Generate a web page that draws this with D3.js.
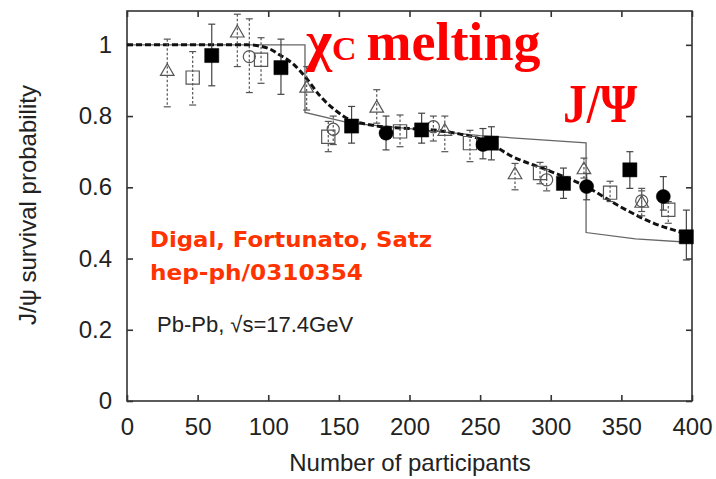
<!DOCTYPE html>
<html>
<head>
<meta charset="utf-8">
<script src="https://cdn.jsdelivr.net/npm/d3@7/dist/d3.min.js"></script>
<style>
  html, body { margin: 0; padding: 0; background: #fff; }
  svg { display: block; }
</style>
</head>
<body>
<svg id="chart" width="716" height="479"></svg>
<script>
// J/psi survival probability vs. number of participants (Pb-Pb, sqrt(s)=17.4 GeV)

// Measurements: [Npart, survival, upper error end, lower error end]
const filledSquares = [
  [60, 0.970, 1.058, 0.885],
  [109, 0.936, 1.016, 0.861],
  [159, 0.772, 0.827, 0.724],
  [208.6, 0.761, 0.808, 0.724],
  [258, 0.724, 0.770, 0.677],
  [309, 0.611, 0.654, 0.569],
  [356, 0.649, 0.700, 0.597],
  [396, 0.461, 0.536, 0.396]
];
const filledCircles = [
  [183.4, 0.752, 0.800, 0.705],
  [252, 0.720, 0.765, 0.680],
  [325.4, 0.602, 0.639, 0.565],
  [379.7, 0.574, 0.630, 0.536]
];
const openSquares = [
  [46.5, 0.908, 0.981, 0.831],
  [94.9, 0.958, 1.020, 0.892],
  [142.5, 0.742, 0.785, 0.700],
  [193.3, 0.757, 0.803, 0.714],
  [242.8, 0.724, 0.760, 0.672],
  [292.4, 0.640, 0.670, 0.610],
  [342, 0.585, 0.617, 0.560],
  [383.2, 0.537, 0.560, 0.499]
];
const openCircles = [
  [86.6, 0.967, 1.073, 0.866],
  [146, 0.763, 0.800, 0.720],
  [216.9, 0.770, 0.800, 0.730],
  [297.1, 0.621, 0.650, 0.590],
  [364.4, 0.562, 0.597, 0.532]
];
const openTriangles = [
  [28.5, 0.925, 1.016, 0.826],
  [78.1, 1.033, 1.086, 0.939],
  [127.2, 0.878, 0.939, 0.817],
  [176.8, 0.822, 0.874, 0.780],
  [225, 0.757, 0.800, 0.700],
  [274.7, 0.635, 0.667, 0.593],
  [323.5, 0.649, 0.682, 0.626],
  [364.4, 0.555, 0.590, 0.520]
];

// Sequential-suppression model (thin solid) and smeared version (thick dashed)
const stepN = [0, 126, 126, 158, 200, 250, 325, 325, 360, 400];
const stepS = [1, 1, 0.81, 0.78, 0.765, 0.745, 0.725, 0.473, 0.455, 0.445];
const smearN = [0, 85, 100, 108, 118, 126, 137, 148, 158, 170, 181, 200, 217, 235, 252, 273, 297, 325, 349, 373, 394, 400];
const smearS = [1, 1, 0.99, 0.972, 0.945, 0.911, 0.855, 0.815, 0.789, 0.777, 0.770, 0.765, 0.761, 0.750, 0.733, 0.686, 0.649, 0.602, 0.546, 0.499, 0.472, 0.465];

const xTicks = [0, 50, 100, 150, 200, 250, 300, 350, 400];
const yTicks = [0, 0.2, 0.4, 0.6, 0.8, 1];

const svg = d3.select("#chart");
const x = d3.scaleLinear().domain([0, 400]).range([127, 692]);
const y = d3.scaleLinear().domain([0, 1.095]).range([401, 11]);

const axisColor = "#333";
const tickFont = "'Liberation Sans', Arial, sans-serif";

// Frame
svg.append("rect")
  .attr("x", x(0)).attr("y", y(1.095))
  .attr("width", x(400) - x(0)).attr("height", y(0) - y(1.095))
  .attr("fill", "none").attr("stroke", axisColor).attr("stroke-width", 1.6);

// Axes with inward ticks on all sides
const tickLen = 6;
const axisB = svg.append("g").attr("transform", `translate(0,${y(0)})`)
  .call(d3.axisBottom(x).tickValues(xTicks).tickSizeInner(-tickLen).tickSizeOuter(0).tickPadding(17).tickFormat(d3.format("d")));
const axisT = svg.append("g").attr("transform", `translate(0,${y(1.095)})`)
  .call(d3.axisTop(x).tickValues(xTicks).tickSizeInner(-tickLen).tickSizeOuter(0).tickFormat(""));
const axisL = svg.append("g").attr("transform", `translate(${x(0)},0)`)
  .call(d3.axisLeft(y).tickValues(yTicks).tickSizeInner(-tickLen).tickSizeOuter(0).tickPadding(15).tickFormat(d => d === 0 || d === 1 ? d3.format("d")(d) : d3.format(".1f")(d)));
const axisR = svg.append("g").attr("transform", `translate(${x(400)},0)`)
  .call(d3.axisRight(y).tickValues(yTicks).tickSizeInner(-tickLen).tickSizeOuter(0).tickFormat(""));
[axisB, axisT, axisL, axisR].forEach(g => {
  g.select(".domain").remove();
  g.selectAll(".tick line").attr("stroke", axisColor).attr("stroke-width", 1.6);
  g.selectAll(".tick text").attr("fill", "#222").style("font-family", tickFont).style("font-size", "24px");
});

// Axis titles
svg.append("text")
  .attr("x", 410).attr("y", 471)
  .attr("text-anchor", "middle")
  .style("font-family", tickFont).style("font-size", "24px").attr("fill", "#222")
  .text("Number of participants");
svg.append("text")
  .attr("transform", "translate(36,205) rotate(-90)")
  .attr("text-anchor", "middle")
  .style("font-family", tickFont).style("font-size", "24px").attr("fill", "#222")
  .text("J/ψ survival probability");

// Model curves
const lineOf = (ns, ss, curve) => d3.line().x(i => x(ns[i])).y(i => y(ss[i])).curve(curve)(d3.range(ns.length));
svg.append("path")
  .attr("d", lineOf(stepN, stepS, d3.curveLinear))
  .attr("fill", "none").attr("stroke", "#666").attr("stroke-width", 1.3);
svg.append("path")
  .attr("d", lineOf(smearN, smearS, d3.curveMonotoneX))
  .attr("fill", "none").attr("stroke", "#111").attr("stroke-width", 3)
  .attr("stroke-dasharray", "6,3");

// Error bars
function errorBars(data, dashed) {
  const g = svg.append("g")
    .attr("stroke", dashed ? "#555" : "#444")
    .attr("stroke-width", 1.2);
  data.forEach(d => {
    g.append("line").attr("x1", x(d[0])).attr("x2", x(d[0])).attr("y1", y(d[2])).attr("y2", y(d[3]))
      .attr("stroke-dasharray", dashed ? "2.5,2" : null);
    [d[2], d[3]].forEach(v => {
      g.append("line").attr("x1", x(d[0]) - 3.5).attr("x2", x(d[0]) + 3.5)
        .attr("y1", y(v)).attr("y2", y(v));
    });
  });
}
errorBars(openTriangles, true);
errorBars(openSquares, true);
errorBars(openCircles, true);
errorBars(filledSquares, false);
errorBars(filledCircles, false);

// Markers
const sym = (type, size) => d3.symbol().type(type).size(size)();
function markers(data, type, size, filled) {
  svg.append("g").selectAll("path").data(data).join("path")
    .attr("transform", d => `translate(${x(d[0])},${y(d[1])})`)
    .attr("d", sym(type, size))
    .attr("fill", filled ? "#000" : "none")
    .attr("stroke", filled ? "#000" : "#555")
    .attr("stroke-width", filled ? 0.5 : 1.2);
}
markers(openTriangles, d3.symbolTriangle, 80, false);
markers(openSquares, d3.symbolSquare, 175, false);
markers(openCircles, d3.symbolCircle, 115, false);
markers(filledSquares, d3.symbolSquare, 200, true);
markers(filledCircles, d3.symbolCircle, 155, true);

// Annotations
const serif = "'Liberation Serif', 'Times New Roman', serif";
const chi = svg.append("text").attr("x", 306).attr("y", 60)
  .style("font-family", serif).style("font-weight", "bold").attr("fill", "#ff0000");
chi.append("tspan").style("font-size", "56px").text("χ");
chi.append("tspan").style("font-size", "34px").text("C");
chi.append("tspan").attr("dx", 10).style("font-size", "54px").text("melting");

svg.append("text").attr("x", 563).attr("y", 122)
  .style("font-family", serif).style("font-weight", "bold").style("font-size", "54px")
  .attr("fill", "#ff0000").attr("textLength", 74).attr("lengthAdjust", "spacingAndGlyphs")
  .text("J/Ψ");

const refFont = "'DejaVu Sans', Verdana, sans-serif";
svg.append("text").attr("x", 150).attr("y", 247)
  .style("font-family", refFont).style("font-weight", "bold").style("font-size", "21px")
  .attr("fill", "#ff3300").attr("textLength", 282).attr("lengthAdjust", "spacingAndGlyphs")
  .text("Digal, Fortunato, Satz");
svg.append("text").attr("x", 150).attr("y", 280)
  .style("font-family", refFont).style("font-weight", "bold").style("font-size", "21px")
  .attr("fill", "#ff3300").attr("textLength", 213).attr("lengthAdjust", "spacingAndGlyphs")
  .text("hep-ph/0310354");

svg.append("text").attr("x", 157).attr("y", 332)
  .style("font-family", tickFont).style("font-size", "22px").attr("fill", "#222")
  .text("Pb-Pb, √s=17.4GeV");
</script>
</body>
</html>
